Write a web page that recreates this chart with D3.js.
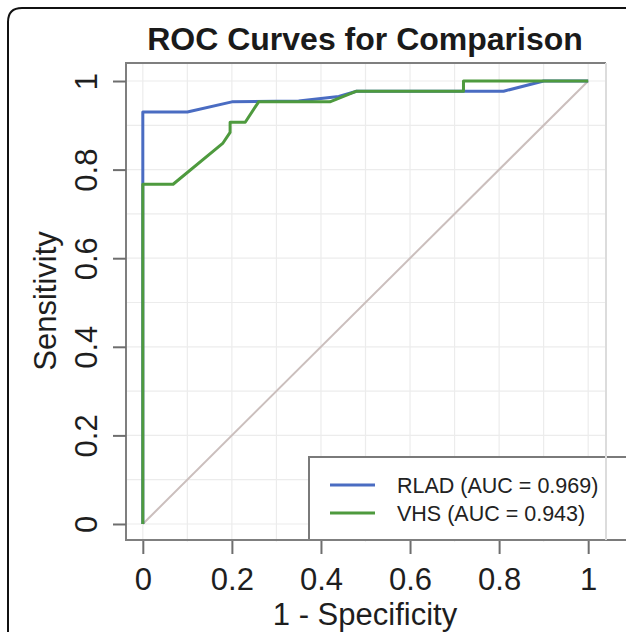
<!DOCTYPE html>
<html>
<head>
<meta charset="utf-8">
<script src="https://cdnjs.cloudflare.com/ajax/libs/d3/7.8.5/d3.min.js"></script>
<style>
body{margin:0;background:#fff;}
svg{display:block;font-family:"Liberation Sans",Arial,sans-serif;}
</style>
</head>
<body>
<script>
// ROC points (x = 1 - specificity, y = sensitivity)
var rladFpr = [0, 0,     0.10,  0.20,  0.35,  0.44,  0.48,  0.81,  0.90, 1];
var rladTpr = [0, 0.930, 0.930, 0.953, 0.955, 0.965, 0.977, 0.977, 1.0,  1];
var vhsFpr  = [0, 0,     0.068, 0.18,  0.196, 0.196, 0.23,  0.26,  0.42,  0.48,  0.72,  0.72, 1];
var vhsTpr  = [0, 0.767, 0.767, 0.86,  0.884, 0.907, 0.907, 0.953, 0.953, 0.977, 0.977, 1.0,  1];

var seriesNames = ["RLAD (AUC = 0.969)", "VHS (AUC = 0.943)"];
var seriesColors = ["#4a6cc2", "#4e9a3e"];
var tickVals = [0, 0.2, 0.4, 0.6, 0.8, 1];
var tickLabels = ["0", "0.2", "0.4", "0.6", "0.8", "1"];
var gridVals = d3.range(0, 11).map(function(i){ return i / 10; });

var W = 626, H = 632;
var svg = d3.select("body").append("svg").attr("width", W).attr("height", H);

var x = d3.scaleLinear().domain([-0.04, 1.04]).range([125, 606]);
var y = d3.scaleLinear().domain([-0.04, 1.04]).range([541.7, 63.3]);

// outer rounded frame (left + top only, picture is cropped)
svg.append("path")
  .attr("d", "M8,632 L8,22 Q8,8 22,8 L626,8")
  .attr("fill", "none").attr("stroke", "#111").attr("stroke-width", 2);

// grid
var g = svg.append("g");
g.selectAll(".gx").data(gridVals).enter().append("line")
  .attr("x1", function(d){ return x(d); }).attr("x2", function(d){ return x(d); })
  .attr("y1", y(-0.04)).attr("y2", y(1.04))
  .attr("stroke", "#ececec").attr("stroke-width", 1.2);
g.selectAll(".gy").data(gridVals).enter().append("line")
  .attr("y1", function(d){ return y(d); }).attr("y2", function(d){ return y(d); })
  .attr("x1", x(-0.04)).attr("x2", x(1.04))
  .attr("stroke", "#ececec").attr("stroke-width", 1.2);

// chance line
svg.append("line")
  .attr("x1", x(0)).attr("y1", y(0)).attr("x2", x(1)).attr("y2", y(1))
  .attr("stroke", "#cbbfbd").attr("stroke-width", 2);

var line = d3.line().x(function(d){ return x(d[0]); }).y(function(d){ return y(d[1]); });
var curves = [d3.zip(rladFpr, rladTpr), d3.zip(vhsFpr, vhsTpr)];
curves.forEach(function(c, i){
  svg.append("path").datum(c)
    .attr("d", line)
    .attr("fill", "none")
    .attr("stroke", seriesColors[i])
    .attr("stroke-width", 3)
    .attr("stroke-linejoin", "round");
});

// legend
var lg = svg.append("g");
lg.append("rect").attr("x", 309).attr("y", 457).attr("width", 320).attr("height", 83)
  .attr("fill", "#fff").attr("stroke", "#7a7a7a").attr("stroke-width", 2);
seriesNames.forEach(function(n, i){
  var ly = 485 + i * 28;
  lg.append("line").attr("x1", 330).attr("x2", 375).attr("y1", ly).attr("y2", ly)
    .attr("stroke", seriesColors[i]).attr("stroke-width", 3);
  lg.append("text").attr("x", 397).attr("y", ly + 8)
    .attr("font-size", 21.5).attr("fill", "#222").text(n);
});

// plot box
var box = svg.append("g").attr("stroke-width", 2);
box.append("line").attr("x1", 126).attr("x2", 126).attr("y1", 63).attr("y2", 541).attr("stroke", "#7f7f7f");
box.append("line").attr("x1", 125).attr("x2", 606).attr("y1", 63).attr("y2", 63).attr("stroke", "#7f7f7f");
box.append("line").attr("x1", 125).attr("x2", 606).attr("y1", 540).attr("y2", 540).attr("stroke", "#7f7f7f");
box.append("line").attr("x1", 606).attr("x2", 606).attr("y1", 63).attr("y2", 540).attr("stroke", "#dcdcdc");

// axes
var xAxis = d3.axisBottom(x).tickValues(tickVals).tickSize(13).tickPadding(14)
  .tickFormat(function(d, i){ return tickLabels[i]; });
var xg = svg.append("g").attr("transform", "translate(0,541)").call(xAxis);
xg.select(".domain").remove();
xg.selectAll("line").attr("stroke", "#6e6e6e").attr("stroke-width", 2);
xg.selectAll("text").attr("font-size", 31).attr("fill", "#1e1e1e")
  .attr("font-family", "Liberation Sans, Arial, sans-serif");

var yAxis = d3.axisLeft(y).tickValues(tickVals).tickSize(13).tickPadding(0)
  .tickFormat(function(d, i){ return tickLabels[i]; });
var yg = svg.append("g").attr("transform", "translate(126,0)").call(yAxis);
yg.select(".domain").remove();
yg.selectAll("line").attr("stroke", "#6e6e6e").attr("stroke-width", 2);
yg.selectAll("text")
  .attr("x", null).attr("dy", null)
  .attr("text-anchor", "middle")
  .attr("transform", "translate(-29,0) rotate(-90)")
  .attr("font-size", 31).attr("fill", "#1e1e1e")
  .attr("font-family", "Liberation Sans, Arial, sans-serif");

// titles
svg.append("text").attr("x", 365).attr("y", 50).attr("text-anchor", "middle")
  .attr("font-size", 32).attr("font-weight", "bold").attr("fill", "#1a1a1a")
  .text("ROC Curves for Comparison");
svg.append("text").attr("x", 365).attr("y", 625).attr("text-anchor", "middle")
  .attr("font-size", 31).attr("fill", "#1e1e1e").text("1 - Specificity");
svg.append("text").attr("transform", "translate(56,301) rotate(-90)")
  .attr("text-anchor", "middle")
  .attr("font-size", 31).attr("fill", "#1e1e1e").text("Sensitivity");
</script>
</body>
</html>
